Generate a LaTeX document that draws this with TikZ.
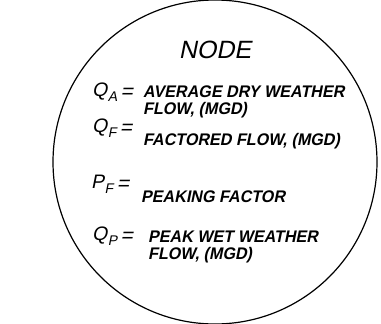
\documentclass[tikz,border=0pt]{standalone}
\usepackage{fontspec}
\setmainfont{Liberation Sans}[FakeSlant=0.2]
\newfontfamily\txtfont{Liberation Sans}[FakeSlant=0.2,FakeStretch=0.96]
\newcommand{\sbs}[1]{\kern0.5pt\raisebox{-5pt}{\fontsize{14}{14}\selectfont #1}}
\newcommand{\eqs}{\hspace{3.5pt}\raisebox{-2.5pt}{\fontsize{21}{21}\selectfont =}}
\begin{document}
\begin{tikzpicture}[x=1pt,y=-1pt,
  lbl/.style={inner sep=0pt,anchor=base west,font=\fontsize{19.5}{19.5}\selectfont},
  txt/.style={inner sep=0pt,anchor=base west,font=\txtfont\bfseries\fontsize{16.8}{16.8}\selectfont},
  ttl/.style={inner sep=0pt,anchor=base,font=\fontsize{25}{25}\selectfont}]
\useasboundingbox (0,0) rectangle (381,324);
\draw[line width=1.2pt] (215,162) circle (162);
\node[ttl] (title) at (215,59) {NODE};
\node[lbl] (qa) at (92,96) {Q\sbs{A}\eqs};
\node[txt] (qat1) at (143,97) {AVERAGE DRY WEATHER};
\node[txt] (qat2) at (143,114) {FLOW, (MGD)};
\node[lbl] (qf) at (92,132) {Q\sbs{F}\eqs};
\node[txt] (qft) at (143,145) {FACTORED FLOW, (MGD)};
\node[lbl] (pf) at (91,188) {P\sbs{F}\eqs};
\node[txt] (pft) at (141,202) {PEAKING FACTOR};
\node[lbl] (qp) at (92,240) {Q\sbs{P}\eqs};
\node[txt] (qpt1) at (148,242) {PEAK WET WEATHER};
\node[txt] (qpt2) at (148,259) {FLOW, (MGD)};
\end{tikzpicture}
\end{document}
